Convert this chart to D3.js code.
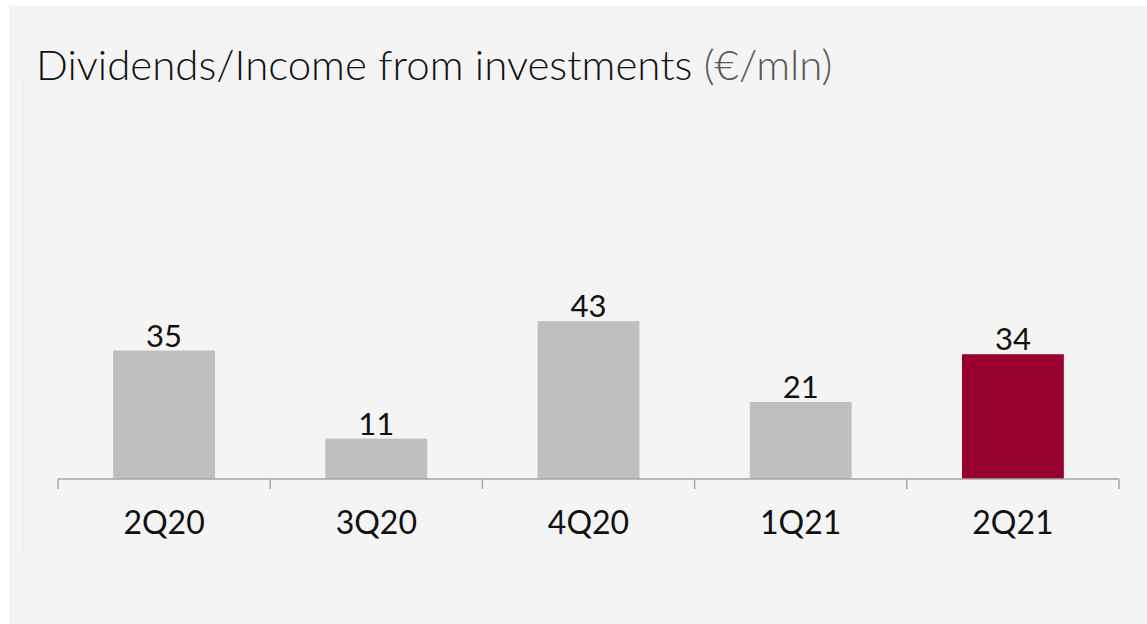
<!DOCTYPE html>
<html>
<head>
<meta charset="utf-8">
<script src="https://cdn.jsdelivr.net/npm/d3@7"></script>
<style>
  html, body { margin: 0; padding: 0; background: #ffffff; }
  svg { display: block; }
</style>
</head>
<body>
<svg id="chart" width="1147" height="624"></svg>
<script>
// Quarterly dividends / income from investments, €/mln
const quarters = ["2Q20", "3Q20", "4Q20", "1Q21", "2Q21"];
const values = [35, 11, 43, 21, 34];
const highlightQuarter = "2Q21";

const W = 1147, H = 624;
const svg = d3.select("#chart");

// outer panel
svg.append("rect")
  .attr("x", 9).attr("y", 6)
  .attr("width", W - 9).attr("height", H - 6)
  .attr("fill", "#f4f4f4");

// inner plot panel
svg.append("rect")
  .attr("x", 23.5).attr("y", 78.5)
  .attr("width", W).attr("height", 480)
  .attr("fill", "#f4f4f4")
  .attr("stroke", "#efefef")
  .attr("stroke-width", 1);

// title
const title = svg.append("text")
  .attr("x", 36).attr("y", 80)
  .attr("font-family", "Lato, sans-serif")
  .attr("font-size", 42)
  .attr("font-weight", 300)
  .attr("fill", "#111");
title.append("tspan").text("Dividends/Income from investments ");
title.append("tspan").attr("fill", "#595959").text("(€/mln)");

const x = d3.scaleBand()
  .domain(quarters)
  .range([58, 1119])
  .paddingInner(0.52)
  .paddingOuter(0.26);

const y = d3.scaleLinear()
  .domain([0, 100])
  .range([479, 112]);

// bars
svg.append("g")
  .selectAll("rect")
  .data(quarters)
  .join("rect")
  .attr("x", d => x(d))
  .attr("width", x.bandwidth())
  .attr("y", (d, i) => y(values[i]))
  .attr("height", (d, i) => y(0) - y(values[i]))
  .attr("fill", d => d === highlightQuarter ? "#98002e" : "#bfbfbf");

// value labels
svg.append("g")
  .selectAll("text")
  .data(quarters)
  .join("text")
  .attr("x", d => x(d) + x.bandwidth() / 2)
  .attr("y", (d, i) => y(values[i]) - 4)
  .attr("text-anchor", "middle")
  .attr("font-family", "Lato, sans-serif")
  .attr("font-size", 31)
  .attr("fill", "#111")
  .text((d, i) => values[i]);

// category axis with ticks on band boundaries
const axisG = svg.append("g").attr("transform", `translate(0,${y(0)})`);
const boundaries = d3.range(quarters.length + 1).map(i => 58 + i * (1119 - 58) / quarters.length);
axisG.append("line")
  .attr("x1", boundaries[0]).attr("x2", boundaries[boundaries.length - 1])
  .attr("stroke", "#a6a6a6").attr("stroke-width", 1.5);
axisG.selectAll("line.tick")
  .data(boundaries)
  .join("line")
  .attr("class", "tick")
  .attr("x1", d => d).attr("x2", d => d)
  .attr("y1", 0).attr("y2", 10)
  .attr("stroke", "#a6a6a6").attr("stroke-width", 1.5);

axisG.selectAll("text")
  .data(quarters)
  .join("text")
  .attr("x", d => x(d) + x.bandwidth() / 2)
  .attr("y", 55)
  .attr("text-anchor", "middle")
  .attr("font-family", "Lato, sans-serif")
  .attr("font-size", 32)
  .attr("fill", "#111")
  .text(d => d);
</script>
</body>
</html>
